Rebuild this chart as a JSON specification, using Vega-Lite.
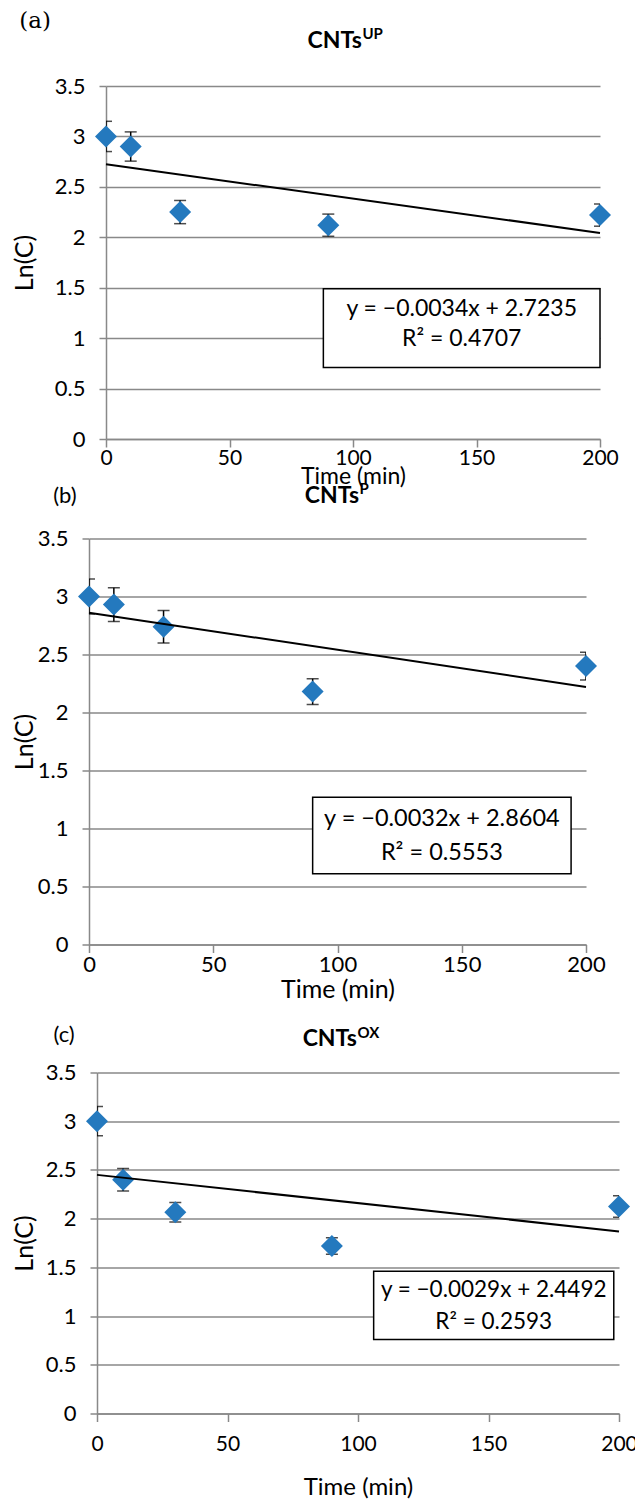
{
  "$schema": "https://vega.github.io/schema/vega-lite/v6.json",
  "background": "white",
  "padding": {"left": 11, "top": 10, "right": 5, "bottom": 0},
  "config": {
    "view": {"stroke": null},
    "font": "Lato",
    "axis": {
      "labelFont": "Lato", "labelFontSize": 22, "labelColor": "#000000",
      "titleFont": "Lato", "titleFontSize": 25, "titleFontWeight": "normal", "titleColor": "#000000",
      "domainColor": "#898989", "domainWidth": 1.5,
      "tickColor": "#898989", "tickWidth": 1.5,
      "gridColor": "#898989", "gridWidth": 1.5
    },
    "axisX": {"grid": false, "tickSize": 8, "labelPadding": 2, "labelFlush": false},
    "axisY": {"grid": true, "tickSize": 7, "labelPadding": 14, "format": "~g", "titleAngle": 270, "titleBaseline": "middle", "titleAlign": "center"}
  },
  "datasets": {
    "pts": [
      {"panel": "a", "t": 0, "ln": 3.0, "err": 0.15},
      {"panel": "a", "t": 10, "ln": 2.9, "err": 0.145},
      {"panel": "a", "t": 30, "ln": 2.25, "err": 0.115},
      {"panel": "a", "t": 90, "ln": 2.12, "err": 0.11},
      {"panel": "a", "t": 200, "ln": 2.22, "err": 0.11},
      {"panel": "b", "t": 0, "ln": 3.0, "err": 0.15},
      {"panel": "b", "t": 10, "ln": 2.93, "err": 0.145},
      {"panel": "b", "t": 30, "ln": 2.74, "err": 0.14},
      {"panel": "b", "t": 90, "ln": 2.18, "err": 0.11},
      {"panel": "b", "t": 200, "ln": 2.4, "err": 0.12},
      {"panel": "c", "t": 0, "ln": 3.0, "err": 0.15},
      {"panel": "c", "t": 10, "ln": 2.4, "err": 0.115},
      {"panel": "c", "t": 30, "ln": 2.065, "err": 0.1},
      {"panel": "c", "t": 90, "ln": 1.72, "err": 0.085},
      {"panel": "c", "t": 200, "ln": 2.125, "err": 0.11}
    ],
    "fit": [
      {"panel": "a", "t": 0, "fit": 2.7235},
      {"panel": "a", "t": 200, "fit": 2.0435},
      {"panel": "b", "t": 0, "fit": 2.8604},
      {"panel": "b", "t": 200, "fit": 2.2204},
      {"panel": "c", "t": 0, "fit": 2.4492},
      {"panel": "c", "t": 200, "fit": 1.8692}
    ]
  },
  "spacing": 21.5,
  "vconcat": [
    {
      "spacing": -7.5,
      "vconcat": [
        {
          "spacing": 0,
          "hconcat": [
            {"width": 1, "height": 10, "data": {"values": [{}]}, "mark": {"type": "point", "opacity": 0, "size": 1}},
            {
              "width": 494, "height": 353,
              "layer": [
                {
                  "data": {"name": "pts"},
                  "transform": [{"filter": "datum.panel == 'a'"}],
                  "mark": {"type": "errorbar", "color": "black", "clip": true, "ticks": {"size": 12, "thickness": 1.5}, "rule": {"strokeWidth": 1.5}},
                  "encoding": {
                    "x": {"field": "t", "type": "quantitative", "title": "Time (min)", "scale": {"domain": [0, 200], "nice": false}},
                    "y": {"field": "ln", "type": "quantitative", "title": "Ln(C)", "scale": {"domain": [0, 3.5], "nice": false, "zero": false}},
                    "yError": {"field": "err"}
                  }
                },
                {
                  "data": {"name": "pts"},
                  "transform": [{"filter": "datum.panel == 'a'"}],
                  "mark": {"type": "point", "shape": "diamond", "filled": true, "size": 484, "color": "#2479be", "opacity": 1},
                  "encoding": {
                    "x": {"field": "t", "type": "quantitative", "title": "Time (min)", "axis": {"values": [0, 50, 100, 150, 200], "labelPadding": 0, "labelFontSize": 21, "titleFontSize": 23, "titlePadding": -2.5}},
                    "y": {"field": "ln", "type": "quantitative", "title": "Ln(C)", "axis": {"values": [0, 0.5, 1, 1.5, 2, 2.5, 3, 3.5], "titleX": -82}}
                  }
                },
                {
                  "data": {"name": "fit"},
                  "transform": [{"filter": "datum.panel == 'a'"}],
                  "mark": {"type": "line", "color": "black", "strokeWidth": 2},
                  "encoding": {
                    "x": {"field": "t", "type": "quantitative", "title": "Time (min)"},
                    "y": {"field": "fit", "type": "quantitative", "title": "Ln(C)"}
                  }
                },
                {
                  "data": {"values": [{}]},
                  "mark": {"type": "rect", "fill": "white", "stroke": "black", "strokeWidth": 1.5},
                  "encoding": {"x": {"datum": 88}, "x2": {"datum": 200}, "y": {"datum": 1.49}, "y2": {"datum": 0.71}}
                },
                {
                  "data": {"values": [{}]},
                  "mark": {"type": "text", "text": "y = −0.0034x + 2.7235", "fontSize": 23, "baseline": "middle"},
                  "encoding": {"x": {"datum": 144}, "y": {"datum": 1.29}}
                },
                {
                  "data": {"values": [{}]},
                  "mark": {"type": "text", "text": "R² = 0.4707", "fontSize": 23, "baseline": "middle"},
                  "encoding": {"x": {"datum": 144}, "y": {"datum": 0.99}}
                },
                {
                  "data": {"values": [{}]},
                  "mark": {"type": "text", "text": "(a)", "font": "DejaVu Serif", "fontSize": 23, "baseline": "middle"},
                  "encoding": {"x": {"datum": -28.7}, "y": {"datum": 4.14}}
                },
                {
                  "data": {"values": [{}]},
                  "mark": {"type": "text", "text": "CNTs", "fontWeight": "bold", "fontSize": 23, "align": "right", "baseline": "middle"},
                  "encoding": {"x": {"datum": 103.6}, "y": {"datum": 3.95}}
                },
                {
                  "data": {"values": [{}]},
                  "mark": {"type": "text", "text": "UP", "fontWeight": "bold", "fontSize": 15, "align": "left", "baseline": "middle"},
                  "encoding": {"x": {"datum": 103.8}, "y": {"datum": 4.02}}
                }
              ]
            }
          ]
        },
        {
          "spacing": 0,
          "hconcat": [
            {"width": 1, "height": 10, "data": {"values": [{}]}, "mark": {"type": "point", "opacity": 0, "size": 1}},
            {
              "width": 497, "height": 406,
              "layer": [
                {
                  "data": {"name": "pts"},
                  "transform": [{"filter": "datum.panel == 'b'"}],
                  "mark": {"type": "errorbar", "color": "black", "clip": true, "ticks": {"size": 12, "thickness": 1.5}, "rule": {"strokeWidth": 1.5}},
                  "encoding": {
                    "x": {"field": "t", "type": "quantitative", "title": "Time (min)", "scale": {"domain": [0, 200], "nice": false}},
                    "y": {"field": "ln", "type": "quantitative", "title": "Ln(C)", "scale": {"domain": [0, 3.5], "nice": false, "zero": false}},
                    "yError": {"field": "err"}
                  }
                },
                {
                  "data": {"name": "pts"},
                  "transform": [{"filter": "datum.panel == 'b'"}],
                  "mark": {"type": "point", "shape": "diamond", "filled": true, "size": 484, "color": "#2479be", "opacity": 1},
                  "encoding": {
                    "x": {"field": "t", "type": "quantitative", "title": "Time (min)", "axis": {"values": [0, 50, 100, 150, 200], "titlePadding": 1.5}},
                    "y": {"field": "ln", "type": "quantitative", "title": "Ln(C)", "axis": {"values": [0, 0.5, 1, 1.5, 2, 2.5, 3, 3.5], "titleX": -65}}
                  }
                },
                {
                  "data": {"name": "fit"},
                  "transform": [{"filter": "datum.panel == 'b'"}],
                  "mark": {"type": "line", "color": "black", "strokeWidth": 2},
                  "encoding": {
                    "x": {"field": "t", "type": "quantitative", "title": "Time (min)"},
                    "y": {"field": "fit", "type": "quantitative", "title": "Ln(C)"}
                  }
                },
                {
                  "data": {"values": [{}]},
                  "mark": {"type": "rect", "fill": "white", "stroke": "black", "strokeWidth": 1.5},
                  "encoding": {"x": {"datum": 90}, "x2": {"datum": 194}, "y": {"datum": 1.27}, "y2": {"datum": 0.61}}
                },
                {
                  "data": {"values": [{}]},
                  "mark": {"type": "text", "text": "y = −0.0032x + 2.8604", "fontSize": 23.5, "baseline": "middle"},
                  "encoding": {"x": {"datum": 142}, "y": {"datum": 1.08}}
                },
                {
                  "data": {"values": [{}]},
                  "mark": {"type": "text", "text": "R² = 0.5553", "fontSize": 23.5, "baseline": "middle"},
                  "encoding": {"x": {"datum": 142}, "y": {"datum": 0.79}}
                },
                {
                  "data": {"values": [{}]},
                  "mark": {"type": "text", "text": "(b)", "fontSize": 22, "baseline": "middle"},
                  "encoding": {"x": {"datum": -9.7}, "y": {"datum": 3.87}}
                },
                {
                  "data": {"values": [{}]},
                  "mark": {"type": "text", "text": "CNTs", "fontWeight": "bold", "fontSize": 23, "align": "right", "baseline": "middle"},
                  "encoding": {"x": {"datum": 108.7}, "y": {"datum": 3.87}}
                },
                {
                  "data": {"values": [{}]},
                  "mark": {"type": "text", "text": "P", "fontWeight": "bold", "fontSize": 15, "align": "left", "baseline": "middle"},
                  "encoding": {"x": {"datum": 108.9}, "y": {"datum": 3.93}}
                }
              ]
            }
          ]
        }
      ]
    },
    {
      "spacing": 0,
      "hconcat": [
        {"width": 1, "height": 10, "data": {"values": [{}]}, "mark": {"type": "point", "opacity": 0, "size": 1}},
        {
          "width": 522, "height": 341,
          "layer": [
            {
              "data": {"name": "pts"},
              "transform": [{"filter": "datum.panel == 'c'"}],
              "mark": {"type": "errorbar", "color": "black", "clip": true, "ticks": {"size": 12, "thickness": 1.5}, "rule": {"strokeWidth": 1.5}},
              "encoding": {
                "x": {"field": "t", "type": "quantitative", "title": "Time (min)", "scale": {"domain": [0, 200], "nice": false}},
                "y": {"field": "ln", "type": "quantitative", "title": "Ln(C)", "scale": {"domain": [0, 3.5], "nice": false, "zero": false}},
                "yError": {"field": "err"}
              }
            },
            {
              "data": {"name": "pts"},
              "transform": [{"filter": "datum.panel == 'c'"}],
              "mark": {"type": "point", "shape": "diamond", "filled": true, "size": 484, "color": "#2479be", "opacity": 1},
              "encoding": {
                "x": {"field": "t", "type": "quantitative", "title": "Time (min)", "axis": {"values": [0, 50, 100, 150, 200], "labelFontSize": 21, "labelPadding": 12, "titleFontSize": 24, "titlePadding": 21}},
                "y": {"field": "ln", "type": "quantitative", "title": "Ln(C)", "axis": {"values": [0, 0.5, 1, 1.5, 2, 2.5, 3, 3.5], "titleX": -73}}
              }
            },
            {
              "data": {"name": "fit"},
              "transform": [{"filter": "datum.panel == 'c'"}],
              "mark": {"type": "line", "color": "black", "strokeWidth": 2},
              "encoding": {
                "x": {"field": "t", "type": "quantitative", "title": "Time (min)"},
                "y": {"field": "fit", "type": "quantitative", "title": "Ln(C)"}
              }
            },
            {
              "data": {"values": [{}]},
              "mark": {"type": "rect", "fill": "white", "stroke": "black", "strokeWidth": 1.5},
              "encoding": {"x": {"datum": 106}, "x2": {"datum": 198}, "y": {"datum": 1.46}, "y2": {"datum": 0.76}}
            },
            {
              "data": {"values": [{}]},
              "mark": {"type": "text", "text": "y = −0.0029x + 2.4492", "fontSize": 22.5, "baseline": "middle"},
              "encoding": {"x": {"datum": 152}, "y": {"datum": 1.27}}
            },
            {
              "data": {"values": [{}]},
              "mark": {"type": "text", "text": "R² = 0.2593", "fontSize": 22.5, "baseline": "middle"},
              "encoding": {"x": {"datum": 152}, "y": {"datum": 0.94}}
            },
            {
              "data": {"values": [{}]},
              "mark": {"type": "text", "text": "(c)", "fontSize": 22, "baseline": "middle"},
              "encoding": {"x": {"datum": -12.6}, "y": {"datum": 3.88}}
            },
            {
              "data": {"values": [{}]},
              "mark": {"type": "text", "text": "CNTs", "fontWeight": "bold", "fontSize": 23, "align": "right", "baseline": "middle"},
              "encoding": {"x": {"datum": 99.6}, "y": {"datum": 3.84}}
            },
            {
              "data": {"values": [{}]},
              "mark": {"type": "text", "text": "OX", "fontWeight": "bold", "fontSize": 15, "align": "left", "baseline": "middle"},
              "encoding": {"x": {"datum": 99.8}, "y": {"datum": 3.91}}
            }
          ]
        }
      ]
    }
  ]
}
